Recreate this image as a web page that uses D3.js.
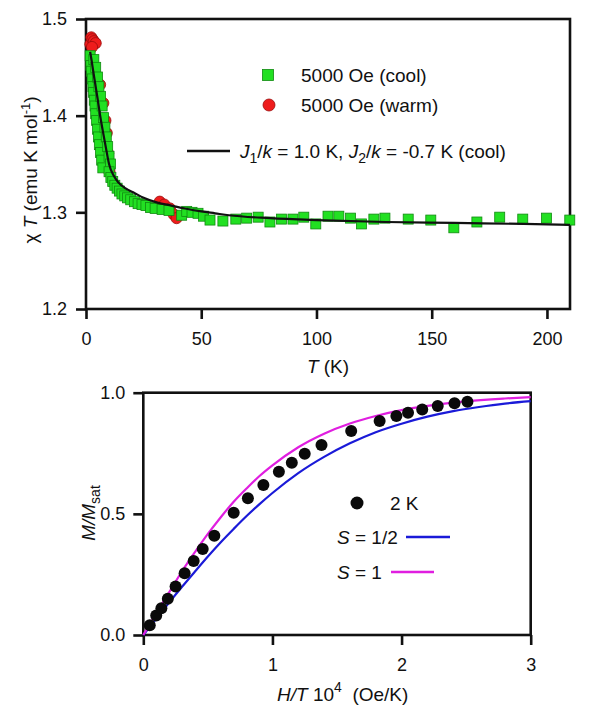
<!DOCTYPE html>
<html><head><meta charset="utf-8">
<script src="https://cdn.jsdelivr.net/npm/d3@7"></script>
<style>
body{margin:0;background:#fff;}
text{font-family:"Liberation Sans",Arial,Helvetica,sans-serif;fill:#111;}
</style></head><body>
<svg id="c" width="600" height="727" xmlns="http://www.w3.org/2000/svg"></svg>
<script>
// ---------- Top panel data: chi*T vs T ----------
const coolT = [1.8,2.1,2.4,2.7,3.0,3.3,3.6,3.9,4.2,4.6,5.0,5.4,5.8,6.3,6.8,7.3,
  3.4,4.2,5.0,5.6,6.3,7.0,7.6,8.2,8.8,9.4,10.0,10.6,
  10.0,10.8,11.6,12.5,13.5,14.5,15.6,16.8,18.0,19.4,21.0,22.6,24.3,26.0,28.0,30.0,
  33,36,41.5,43.7,46,48.6,51,53.8,59.4,65,69.7,74.7,79.8,84.8,89.8,94.5,99.7,105,109.7,114.8,119.5,124.9,129.7,139.8,149.6,159.6,169.6,179.5,189.5,199.8,209.9];
const coolChi = [1.462,1.452,1.446,1.438,1.430,1.424,1.416,1.410,1.402,1.395,1.386,1.378,1.370,1.362,1.354,1.346,
  1.458,1.450,1.440,1.430,1.420,1.410,1.398,1.388,1.378,1.368,1.358,1.350,
  1.342,1.336,1.332,1.328,1.325,1.322,1.319,1.317,1.315,1.313,1.311,1.309,1.308,1.307,1.305,1.304,
  1.303,1.302,1.297,1.301,1.300,1.299,1.296,1.292,1.291,1.293,1.294,1.295,1.290,1.293,1.293,1.295,1.288,1.296,1.296,1.294,1.288,1.293,1.294,1.293,1.292,1.284,1.290,1.295,1.293,1.294,1.292];
const warmT = [1.9,2.3,2.8,3.4,4.2,2.6,6.1,7.5,8.4,9.0,9.6,10.2,32,34,36.4,38,39.3];
const warmChi = [1.474,1.481,1.479,1.477,1.475,1.471,1.432,1.413,1.395,1.382,1.361,1.342,1.311,1.308,1.304,1.298,1.294];
const fitT = [1.8,2.5,3,4,5,6,7,8,9,10,12,14,17,21,25,31,37,43,50,56,62,80,100,130,160,190,210];
const fitChi = [1.466,1.456,1.448,1.433,1.418,1.402,1.388,1.375,1.362,1.350,1.338,1.331,1.325,1.320,1.315,1.310,1.307,1.304,1.301,1.299,1.297,1.294,1.292,1.290,1.289,1.288,1.287];
const topXTicks = [0,50,100,150,200];
const topYTicks = [1.2,1.3,1.4,1.5];
const legendTop = ["5000 Oe (cool)","5000 Oe (warm)"];

// ---------- Bottom panel data: M/Msat vs H/T ----------
const mhX = [0.05,0.10,0.14,0.19,0.25,0.32,0.39,0.46,0.55,0.70,0.81,0.93,1.05,1.15,1.25,1.38,1.61,1.83,1.96,2.05,2.16,2.28,2.41,2.51];
const mhM = [0.04,0.08,0.11,0.15,0.20,0.255,0.305,0.355,0.41,0.505,0.564,0.619,0.674,0.711,0.748,0.784,0.842,0.883,0.904,0.917,0.931,0.945,0.956,0.963];
const s12X = [0,0.1,0.2,0.3,0.4,0.5,0.6,0.7,0.8,0.9,1.0,1.2,1.4,1.6,1.8,2.0,2.2,2.4,2.6,2.8,3.0];
const s12M = [0,0.067,0.134,0.199,0.262,0.324,0.383,0.438,0.491,0.540,0.586,0.668,0.735,0.791,0.837,0.872,0.901,0.924,0.941,0.955,0.965];
const s1X = [0,0.1,0.2,0.3,0.4,0.5,0.6,0.7,0.8,0.9,1.0,1.2,1.4,1.6,1.8,2.0,2.4,2.8,3.0];
const s1M = [0,0.089,0.176,0.263,0.342,0.417,0.486,0.550,0.605,0.656,0.700,0.775,0.831,0.873,0.904,0.928,0.959,0.976,0.982];
const botXTicks = [0,1,2,3];
const botYTicks = [0,0.5,1.0];

const svg = d3.select("#c");
const INK = "#111";
const AXW = 2.6;

function styleAxis(g){
  g.select(".domain").remove();
  g.selectAll(".tick line").attr("stroke",INK).attr("stroke-width",AXW);
  g.selectAll(".tick text").style("font-size","18px").attr("fill",INK)
   .style("font-family",'"Liberation Sans",Arial,sans-serif');
}

// ================= TOP PANEL =================
const xT = d3.scaleLinear().domain([0,210]).range([86,570]);
const yT = d3.scaleLinear().domain([1.2,1.5]).range([309,19]);
const gTop = svg.append("g");

gTop.append("g").attr("transform",`translate(0,${yT(1.2)})`)
  .call(d3.axisBottom(xT).tickValues(topXTicks).tickSize(10).tickPadding(13).tickFormat(d3.format("d")))
  .call(styleAxis);
gTop.append("g").attr("transform",`translate(${xT(0)},0)`)
  .call(d3.axisLeft(yT).tickValues(topYTicks).tickSize(10).tickPadding(9).tickFormat(d3.format(".1f")))
  .call(styleAxis);
gTop.append("rect").attr("x",xT(0)).attr("y",yT(1.5)).attr("width",xT(210)-xT(0)).attr("height",yT(1.2)-yT(1.5))
  .attr("fill","none").attr("stroke",INK).attr("stroke-width",AXW);

const warm = warmT.map((t,i)=>({t,v:warmChi[i]}));
const cool = coolT.map((t,i)=>({t,v:coolChi[i]}));
const fit = fitT.map((t,i)=>({t,v:fitChi[i]}));

const RED="#ee1c1c", REDS="#9a0d0d", GRN="#22e022", GRNS="#118a11";
gTop.append("g").selectAll("circle").data(warm).join("circle")
  .attr("cx",d=>xT(d.t)).attr("cy",d=>yT(d.v)).attr("r",5.6)
  .attr("fill",RED).attr("stroke",REDS).attr("stroke-width",0.8);
const SQ=10;
gTop.append("g").selectAll("rect").data(cool).join("rect")
  .attr("x",d=>xT(d.t)-SQ/2).attr("y",d=>yT(d.v)-SQ/2).attr("width",SQ).attr("height",SQ)
  .attr("fill",GRN).attr("stroke",GRNS).attr("stroke-width",0.8);
gTop.append("path").datum(fit)
  .attr("d",d3.line().x(d=>xT(d.t)).y(d=>yT(d.v)).curve(d3.curveMonotoneX))
  .attr("fill","none").attr("stroke",INK).attr("stroke-width",2.2);

// legend top
const lg = gTop.append("g").style("font-size","19px");
lg.append("rect").attr("x",268-5.5).attr("y",75-5.5).attr("width",11).attr("height",11)
  .attr("fill",GRN).attr("stroke",GRNS).attr("stroke-width",0.8);
lg.append("circle").attr("cx",269).attr("cy",105).attr("r",6)
  .attr("fill",RED).attr("stroke",REDS).attr("stroke-width",0.8);
lg.append("text").attr("x",301).attr("y",82).text(legendTop[0]);
lg.append("text").attr("x",301).attr("y",112).text(legendTop[1]);
lg.append("line").attr("x1",187).attr("x2",230).attr("y1",151).attr("y2",151)
  .attr("stroke",INK).attr("stroke-width",2.4);
const jt = lg.append("text").attr("x",240).attr("y",158);
jt.append("tspan").style("font-style","italic").text("J");
jt.append("tspan").attr("dy",5).style("font-size","14px").text("1");
jt.append("tspan").attr("dy",-5).text("/");
jt.append("tspan").style("font-style","italic").text("k");
jt.append("tspan").text(" = 1.0 K, ");
jt.append("tspan").style("font-style","italic").text("J");
jt.append("tspan").attr("dy",5).style("font-size","14px").text("2");
jt.append("tspan").attr("dy",-5).text("/");
jt.append("tspan").style("font-style","italic").text("k");
jt.append("tspan").text(" = -0.7 K (cool)");

// axis titles top
const tx = gTop.append("text").attr("x",328).attr("y",373).attr("text-anchor","middle").style("font-size","19px");
tx.append("tspan").style("font-style","italic").text("T");
tx.append("tspan").text(" (K)");
const ty = gTop.append("text").attr("transform","translate(37,170) rotate(-90)").attr("text-anchor","middle").style("font-size","19px");
ty.append("tspan").text("χ ");
ty.append("tspan").style("font-style","italic").text("T");
ty.append("tspan").text(" (emu K mol");
ty.append("tspan").attr("dy",-7).style("font-size","13px").text("-1");
ty.append("tspan").attr("dy",7).text(")");

// ================= BOTTOM PANEL =================
const xB = d3.scaleLinear().domain([0,3]).range([143.3,530.7]);
const yB = d3.scaleLinear().domain([0,1]).range([635,392.7]);
const gBot = svg.append("g");
gBot.append("g").attr("transform",`translate(0,${yB(0)})`)
  .call(d3.axisBottom(xB).tickValues(botXTicks).tickSize(10).tickPadding(13).tickFormat(d3.format("d")))
  .call(styleAxis);
gBot.append("g").attr("transform",`translate(${xB(0)},0)`)
  .call(d3.axisLeft(yB).tickValues(botYTicks).tickSize(10).tickPadding(8).tickFormat(d3.format(".1f")))
  .call(styleAxis);
gBot.append("rect").attr("x",xB(0)).attr("y",yB(1)).attr("width",xB(3)-xB(0)).attr("height",yB(0)-yB(1))
  .attr("fill","none").attr("stroke",INK).attr("stroke-width",AXW);

const BLUE="#1a1ad8", MAG="#e01ee0";
const lineB = d3.line().x(d=>xB(d[0])).y(d=>yB(d[1])).curve(d3.curveMonotoneX);
gBot.append("path").datum(s12X.map((x,i)=>[x,s12M[i]])).attr("d",lineB)
  .attr("fill","none").attr("stroke",BLUE).attr("stroke-width",2.2);
gBot.append("path").datum(s1X.map((x,i)=>[x,s1M[i]])).attr("d",lineB)
  .attr("fill","none").attr("stroke",MAG).attr("stroke-width",2.2);
gBot.append("g").selectAll("circle").data(mhX.map((x,i)=>[x,mhM[i]])).join("circle")
  .attr("cx",d=>xB(d[0])).attr("cy",d=>yB(d[1])).attr("r",6).attr("fill","#0a0a0a");

// legend bottom
const lb = gBot.append("g").style("font-size","19px");
lb.append("circle").attr("cx",357).attr("cy",503).attr("r",6.5).attr("fill","#0a0a0a");
lb.append("text").attr("x",390).attr("y",510).text("2 K");
const s1 = lb.append("text").attr("x",337).attr("y",544);
s1.append("tspan").style("font-style","italic").text("S");
s1.append("tspan").text(" = 1/2");
lb.append("line").attr("x1",406).attr("x2",450).attr("y1",537).attr("y2",537).attr("stroke",BLUE).attr("stroke-width",2.4);
const s2 = lb.append("text").attr("x",337).attr("y",579);
s2.append("tspan").style("font-style","italic").text("S");
s2.append("tspan").text(" = 1");
lb.append("line").attr("x1",391).attr("x2",434).attr("y1",572).attr("y2",572).attr("stroke",MAG).attr("stroke-width",2.4);

// axis titles bottom
const bx = gBot.append("text").attr("x",277).attr("y",701).style("font-size","19px");
bx.append("tspan").style("font-style","italic").text("H/T");
bx.append("tspan").text(" 10");
bx.append("tspan").attr("dy",-9).style("font-size","14px").text("4");
bx.append("tspan").attr("dy",9).text("\u00a0 (Oe/K)");
const by = gBot.append("text").attr("transform","translate(95,513) rotate(-90)").attr("text-anchor","middle").style("font-size","19px");
by.append("tspan").style("font-style","italic").text("M/M");
by.append("tspan").attr("dy",5).style("font-size","14px").text("sat");
</script>
</body></html>
